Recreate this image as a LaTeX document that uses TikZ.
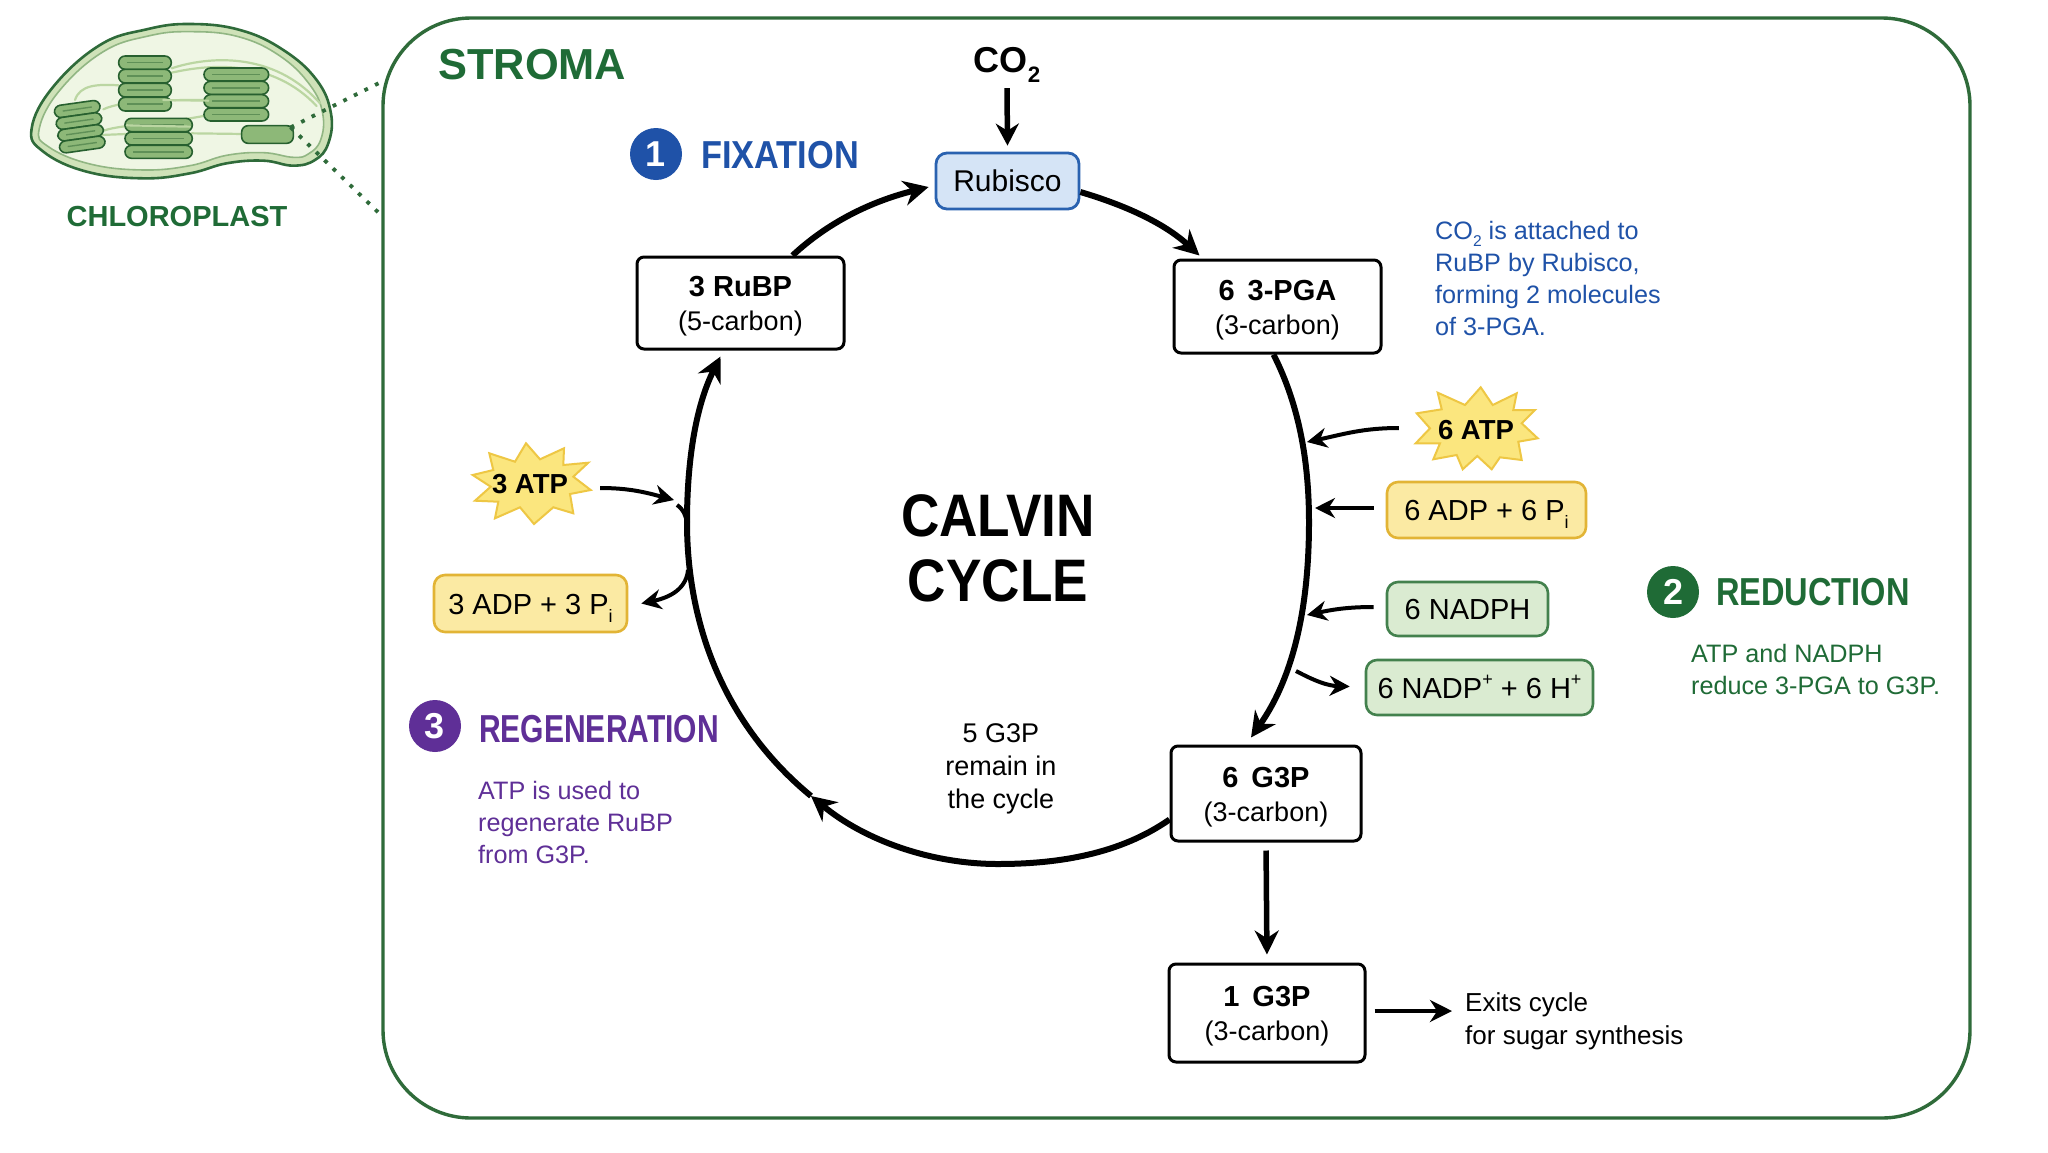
\documentclass[tikz,border=0pt]{standalone}
\usepackage{fontspec}
\setmainfont{Liberation Sans}
\newfontfamily\headfont[FakeStretch=0.88]{Liberation Sans}
\newfontfamily\redfont[FakeStretch=0.835]{Liberation Sans}
\newfontfamily\regenfont[FakeStretch=0.77]{Liberation Sans}
\newfontfamily\bigfont[FakeStretch=0.886]{Liberation Sans}
\usetikzlibrary{arrows.meta,calc}
\definecolor{stromagreen}{HTML}{2F6B3A}
\definecolor{titlegreen}{HTML}{1F6B36}
\definecolor{fixblue}{HTML}{1F52A8}
\definecolor{regenpurple}{HTML}{5F2F97}
\definecolor{atpfill}{HTML}{FBEAA3}
\definecolor{atpline}{HTML}{E2B435}
\definecolor{burstfill}{HTML}{FBE67E}
\definecolor{burstline}{HTML}{EEC744}
\definecolor{nadfill}{HTML}{DAEBD1}
\definecolor{nadline}{HTML}{43814D}
\definecolor{rubfill}{HTML}{D5E4F6}
\definecolor{rubline}{HTML}{2A62B0}
\definecolor{plastband}{HTML}{CFE2B8}
\definecolor{plastin}{HTML}{EFF6E4}
\definecolor{discfill}{HTML}{8DB878}
\definecolor{discline}{HTML}{27602F}
\definecolor{lamella}{HTML}{BBD6A2}
\newcommand\lowered[1]{\raisebox{-.28em}{\scalebox{.62}{#1}}}
\newcommand\raised[1]{\raisebox{.42em}{\scalebox{.62}{#1}}}
% one thylakoid disc with a darker fold along its middle
\newcommand\disc[4]{\draw[discshape] (#1,#2) rectangle (#3,#4);
  \draw[discfold] ({#1+25},{(#2+#4)/2}) -- ({#3-25},{(#2+#4)/2});}
\newcommand\boxhead[1]{\rule{0pt}{27pt}{\bfseries\fontsize{29}{34}\selectfont #1}}
\tikzset{
  cycbox/.style={draw=black,fill=white,line width=3pt,rounded corners=7pt,inner sep=0pt,align=center,font=\fontsize{27}{34}\selectfont},
  chembox/.style={line width=2.6pt,rounded corners=11pt,inner sep=0pt,text=black,text height=21pt,text depth=0pt,font=\fontsize{29}{34}\selectfont},
  atpbox/.style={chembox,draw=atpline,fill=atpfill},
  nadbox/.style={chembox,draw=nadline,fill=nadfill},
  burst/.style={draw=burstline,fill=burstfill,line width=2pt,line join=miter},
  ring/.style={line width=6pt,draw=black},
  ringtip/.style={ring,-{Stealth[length=25pt,width=25pt]}},
  feed/.style={line width=4pt,draw=black,-{Stealth[length=20pt,width=20pt]}},
  feedplain/.style={line width=4pt,draw=black},
  note/.style={inner sep=0pt,align=left,anchor=west,font=\fontsize{25.2}{32}\selectfont},
  badge/.style={circle,minimum size=52pt,inner sep=0pt,text=white,font=\bfseries\fontsize{36}{36}\selectfont},
  phase/.style={inner sep=0pt,anchor=west},
  discshape/.style={draw=discline,fill=discfill,line width=1.6pt,rounded corners=6.5pt},
  discfold/.style={draw=discline,opacity=.45,line width=1.4pt},
  lam/.style={draw=lamella,line width=2.2pt,line cap=round},
  zoomline/.style={draw=stromagreen,line width=3.8pt,dash pattern=on 3.8pt off 8pt},
  burstlabel/.style={inner sep=0pt,minimum width=110pt,font=\bfseries\fontsize{27.5}{30}\selectfont},
}
\begin{document}
\begin{tikzpicture}[x=1pt,y=1pt]
\useasboundingbox (0,0) rectangle (2048,-1152);
\fill[white] (0,0) rectangle (2048,-1152);

% chloroplast sketch, in a finer grid of its own
\begin{scope}[x=0.3333pt,y=0.3333pt]
  \draw[stromagreen,line width=2.6pt,fill=plastband] plot[smooth cycle,tension=0.7] coordinates {
    (95,-385) (160,-260) (300,-135) (440,-88) (570,-72) (720,-90) (850,-150) (950,-240) (993,-340)
    (985,-430) (945,-480) (880,-497) (790,-482) (680,-490) (570,-520) (430,-535) (260,-515) (130,-455)};
  \draw[lamella!70!stromagreen,line width=1.6pt,fill=plastin] plot[smooth cycle,tension=0.7] coordinates {
    (118,-385) (180,-270) (310,-155) (445,-108) (570,-95) (715,-110) (840,-168) (930,-255) (968,-340)
    (962,-420) (925,-462) (880,-472) (790,-458) (680,-466) (570,-497) (430,-510) (270,-492) (145,-440)};
  \draw[lam] (515,-205) .. controls (620,-170) and (820,-150) .. (960,-310);
  \draw[lam] (515,-218) .. controls (640,-190) and (820,-180) .. (950,-318);
  \draw[lam] (225,-300) .. controls (240,-255) and (290,-252) .. (356,-256);
  \draw[lam] (310,-328) .. controls (370,-300) and (500,-300) .. (620,-300);
  \draw[lam] (305,-405) -- (380,-402);
  \draw[lam] (575,-400) -- (730,-402);
  \draw[lam] (305,-395) .. controls (340,-375) and (500,-370) .. (610,-348);
  \disc{356}{-168}{514}{-208}
  \disc{356}{-208}{514}{-249}
  \disc{356}{-250}{514}{-291}
  \disc{356}{-292}{514}{-333}
  \disc{612}{-204}{806}{-243}
  \disc{612}{-244}{806}{-283}
  \disc{612}{-284}{806}{-323}
  \disc{612}{-324}{806}{-363}
  \disc{375}{-355}{577}{-395}
  \disc{375}{-396}{577}{-435}
  \disc{375}{-436}{577}{-475}
  \draw[discshape] (725,-377) rectangle (880,-430);
  \begin{scope}[rotate around={8:(240,-378)}]
    \disc{170}{-308}{308}{-345}
    \disc{170}{-345}{308}{-381}
    \disc{170}{-381}{308}{-416}
    \disc{170}{-416}{308}{-452}
  \end{scope}
  \draw[lam] (490,-300) -- (625,-302);
  \draw[lam] (380,-376) -- (570,-380);
  \coordinate (lensfocus) at (872,-382);
\end{scope}
\node[inner sep=0pt,text=titlegreen] (plastname) at (177,-217) {\bfseries\fontsize{29}{30}\selectfont CHLOROPLAST};

% stroma panel
\node[draw=stromagreen,line width=3.4pt,rounded corners=88pt,minimum width=1587pt,minimum height=1100pt,inner sep=0pt] (stroma) at (1176.5,-568) {};
\coordinate (lensup) at (383,-81);
\coordinate (lensdown) at (383,-217);
\draw[zoomline] (lensfocus) -- (lensup);
\draw[zoomline] (lensfocus) -- (lensdown);
\node[inner sep=0pt,anchor=west,text=titlegreen] (stromaname) at (438,-65) {\bfseries\fontsize{43.4}{45}\selectfont STROMA};

% cycle stations
\node[draw=rubline,fill=rubfill,line width=2.8pt,rounded corners=11pt,inner sep=0pt,minimum width=143pt,minimum height=56pt,font=\fontsize{30}{34}\selectfont] (rubisco) at (1007.5,-181) {Rubisco};
\node[cycbox,minimum width=207pt,minimum height=92pt] (rubp) at (740.5,-303) {\boxhead{3 RuBP}\\(5-carbon)};
\node[cycbox,minimum width=207pt,minimum height=93pt] (pga) at (1277.5,-306.5) {\boxhead{6\, 3-PGA}\\(3-carbon)};
\node[cycbox,minimum width=190pt,minimum height=95pt] (gsix) at (1266,-793.5) {\boxhead{6\, G3P}\\(3-carbon)};
\node[cycbox,minimum width=196pt,minimum height=98pt] (gone) at (1267,-1013) {\boxhead{1\, G3P}\\(3-carbon)};
\node[inner sep=0pt,minimum height=40pt] (co) at (1007,-65) {\bfseries\fontsize{36}{36}\selectfont CO\lowered{2}};

% centre labels
\node[inner sep=0pt,align=center,font=\bigfont\bfseries\fontsize{60}{65}\selectfont] (title) at (998,-548) {CALVIN\\CYCLE};
\node[inner sep=0pt,align=center,font=\fontsize{27}{33}\selectfont] (remain) at (1001,-769) {5 G3P\\remain in\\the cycle};

% the cycle ring, built from arcs through named way-points
\coordinate (ringE) at (1309,-522);
\coordinate (ringS) at (998,-864);
\coordinate (ringSW) at (811,-796);
\coordinate (ringW) at (687,-522);
\draw[ringtip] ([shift={(52,0)}]rubp.north) to[out=43,in=194,looseness=.9] ([shift={(-6,-6)}]rubisco.west);
\draw[ringtip] ([shift={(0,-11)}]rubisco.east) to[out=-16.5,in=137.5,looseness=.9] ([shift={(-78,3)}]pga.north);
\draw[ring] ([xshift=-4pt]pga.south) to[out=-63,in=90,looseness=.87] (ringE);
\draw[ringtip] (ringE) to[out=-90,in=55,looseness=.9] ([shift={(-15,7)}]gsix.north);
\draw[ring] ([shift={(0,-26)}]gsix.west) to[out=215,in=0,looseness=.87] (ringS);
\draw[ringtip] (ringS) to[out=180,in=-39.5,looseness=.88] (ringSW);
\draw[ring] (ringSW) to[out=140.5,in=-90,looseness=.92] (ringW);
\draw[ringtip] (ringW) to[out=90,in=243.4,looseness=.87] ([shift={(-20,-6)}]rubp.south);

\draw[line width=5.5pt,-{Stealth[length=22pt,width=23pt]}] ([yshift=-3pt]co.south) -- ([yshift=6pt]rubisco.north);
\draw[line width=5.5pt,-{Stealth[length=24pt,width=24pt]},shorten <=8pt,shorten >=8pt] (gsix.south) -- (gone.north);

% exit branch
\node[note,font=\fontsize{26}{33}\selectfont] (exits) at (1465,-1021.5) {Exits cycle\\for sugar synthesis};
\draw[line width=4.6pt,-{Stealth[length=22pt,width=22pt]}] ([shift={(8,2)}]gone.east) -- ([shift={(-13,10.5)}]exits.west);

% ATP bursts drawn as polygons with their labels on top
\draw[burst] (526,-443.3) -- (540,-459.3) -- (564,-448.3) -- (563.3,-465) -- (588.3,-462.7) -- (573.3,-476.7) -- (590.7,-490) -- (570,-494) -- (573.3,-513.3) -- (553.3,-507.3) -- (534,-524) -- (520,-507.3) -- (495,-518.3) -- (498.3,-501.7) -- (475,-500.7) -- (490.7,-486.7) -- (472.7,-475) -- (493.3,-470) -- (489.3,-453.3) -- (515,-461.7) -- cycle;
\node[burstlabel] (atpthree) at (530,-484) {3 ATP};
\draw[burst] (1480.7,-387.3) -- (1492.7,-405) -- (1516.7,-393.3) -- (1513.3,-410) -- (1535,-410) -- (1521.7,-423.3) -- (1537.7,-438.3) -- (1518.3,-441.7) -- (1521.7,-460) -- (1500,-457.3) -- (1491.7,-469.3) -- (1477.3,-456) -- (1462.7,-469.3) -- (1456.7,-455) -- (1433.3,-459.3) -- (1440,-443.3) -- (1415.7,-443.3) -- (1430,-428.3) -- (1416.7,-413.3) -- (1441.7,-409.3) -- (1437.7,-392.7) -- (1465,-405) -- cycle;
\node[burstlabel] (atpsix) at (1476,-430) {6 ATP};

% cofactor boxes
\node[atpbox,minimum width=193pt,minimum height=57pt] (adpthree) at (530.5,-603.5) {3 ADP + 3 P\lowered{i}};
\node[atpbox,minimum width=199pt,minimum height=56pt] (adpsix) at (1486.5,-510) {6 ADP + 6 P\lowered{i}};
\node[nadbox,minimum width=161pt,minimum height=54pt] (nadph) at (1467.5,-609) {6 NADPH};
\node[nadbox,minimum width=227pt,minimum height=55pt] (nadp) at (1479.5,-687.5) {6 NADP\raised{+} + 6 H\raised{+}};

% cofactor arrows on the reduction side
\coordinate (ringatp) at (1307,-442);
\coordinate (ringadp) at (1315,-508);
\coordinate (ringnadph) at (1307,-615);
\coordinate (ringnadp) at (1296,-671);
\draw[feed] ([shift={(-22,2)}]atpsix.west) to[out=180,in=12] (ringatp);
\draw[feed] ([shift={(-12,2)}]adpsix.west) -- (ringadp);
\draw[feed] ([shift={(-12,2)}]nadph.west) to[out=180,in=12] (ringnadph);
\draw[feed] (ringnadp) to[out=-28,in=178] ([shift={(-15,1)}]nadp.west);

% cofactor arrows on the regeneration side
\coordinate (ringin) at (674,-500);
\coordinate (ringmerge) at (687,-523);
\coordinate (ringout) at (688,-570);
\draw[feed] ([shift={(15,-4)}]atpthree.east) to[out=0,in=165] (ringin);
\draw[feedplain] (677,-505) to[out=-35,in=100] (ringmerge);
\draw[feed] (ringout) to[out=-95,in=12] ([shift={(13,0)}]adpthree.east);

% phase headings and their notes
\node[badge,fill=fixblue] (numone) at (656,-154) {1};
\node[phase,text=fixblue,font=\headfont\bfseries\fontsize{39}{39}\selectfont] (fixname) at (701,-155) {FIXATION};
\node[note,text=fixblue] (fixnote) at (1435,-278) {CO\lowered{2} is attached to\\RuBP by Rubisco,\\forming 2 molecules\\of 3-PGA.};
\node[badge,fill=titlegreen] (numtwo) at (1673,-592) {2};
\node[phase,text=titlegreen,font=\redfont\bfseries\fontsize{39}{39}\selectfont] (redname) at (1716,-592) {REDUCTION};
\node[note,text=titlegreen] (rednote) at (1691,-669) {ATP and NADPH\\reduce 3-PGA to G3P.};
\node[badge,fill=regenpurple] (numthree) at (435,-726) {3};
\node[phase,text=regenpurple,font=\regenfont\bfseries\fontsize{39}{39}\selectfont] (regname) at (479,-729) {REGENERATION};
\node[note,text=regenpurple] (regnote) at (478,-822) {ATP is used to\\regenerate RuBP\\from G3P.};
\end{tikzpicture}
\end{document}
